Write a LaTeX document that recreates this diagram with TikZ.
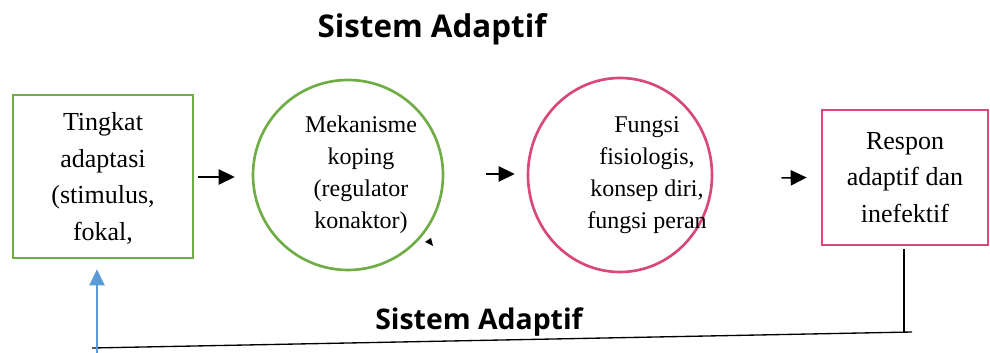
\documentclass[tikz,border=0pt]{standalone}
\usepackage{fontspec}
\setmainfont{Liberation Serif}
\newfontfamily\titlefont[Ligatures=NoCommon]{Open Sans}
\usetikzlibrary{calc,arrows.meta,shapes.geometric}

\definecolor{kotakhijau}{HTML}{70AD47}
\definecolor{kotakmerah}{HTML}{D9487A}
\definecolor{panahbiru}{HTML}{5B9BD5}

\tikzset{
  kotak/.style={draw,rectangle,line width=2pt,inner sep=0pt},
  lingkar/.style={draw,ellipse,line width=2pt,inner sep=0pt},
  isi/.style={align=center,font=\fontsize{19.5}{27.5}\selectfont},
  isikecil/.style={align=center,font=\fontsize{18}{24}\selectfont},
  judul/.style={font=\titlefont\bfseries\fontsize{23.5}{28}\selectfont},
  panah/.style={line width=1.1pt,-{Triangle[length=12pt,width=11.5pt]}}
}

\begin{document}
\begin{tikzpicture}[x=0.75pt,y=0.75pt]
  \useasboundingbox (0,0) rectangle (990,353);

  \node[judul] (judulatas) at (432,324) {Sistem Adaptif};

  % kotak dan lingkaran
  \node[kotak,draw=kotakhijau,minimum width=135pt,minimum height=122.25pt] (tingkat) at (103,176.5) {};
  \node[lingkar,draw=kotakhijau,minimum width=142.5pt,minimum height=142.5pt] (mekanisme) at (348,178) {};
  \node[lingkar,draw=kotakmerah,minimum width=138pt,minimum height=145.5pt] (fungsi) at (620,178) {};
  \node[kotak,draw=kotakmerah,minimum width=124.5pt,minimum height=101.25pt] (respon) at (905,175.5) {};

  \node[isi] (tingkatteks) at ($(tingkat.center)+(0,-2)$) {Tingkat\\adaptasi\\(stimulus,\\fokal,};
  \node[isikecil] (mekanismeteks) at ($(mekanisme.center)+(13,0)$) {Mekanisme\\koping\\(regulator\\konaktor)};
  \node[isikecil] (fungsiteks) at ($(fungsi.center)+(27,0)$) {Fungsi\\fisiologis,\\konsep diri,\\fungsi peran};
  \node[isi] (responteks) at (respon.center) {Respon\\adaptif dan\\inefektif};

  % panah
  \draw[panah] ($(tingkat.east)+(4,-0.5)$) -- ($(mekanisme.west)+(-17,-2)$);
  \draw[panah] ($(mekanisme.east)+(42,1)$) -- ($(fungsi.west)+(-12,1)$);
  \draw[panah] ($(fungsi.east)+(68,-3)$) -- ($(respon.west)+(-14,0)$);

  % tanda kecil
  \fill (425,111) -- (433,107) -- (431,115) -- cycle;

  % umpan balik
  \coordinate (kiri) at (92,5);
  \coordinate (kanan) at (912,21);
  \draw[line width=1pt] ($(respon.south)+(-1,-3)$) -- ($(respon.south)+(-1,-87)$);
  \draw[line width=1pt] (kiri) -- (kanan);
  \draw[panah,draw=panahbiru,fill=panahbiru,line width=0.9pt] (97,0) -- ($(tingkat.south)+(-6,-10)$);

  \node[judul,font=\titlefont\bfseries\fontsize{21.3}{26}\selectfont] (judulbawah) at (479,31) {Sistem Adaptif};
\end{tikzpicture}
\end{document}
